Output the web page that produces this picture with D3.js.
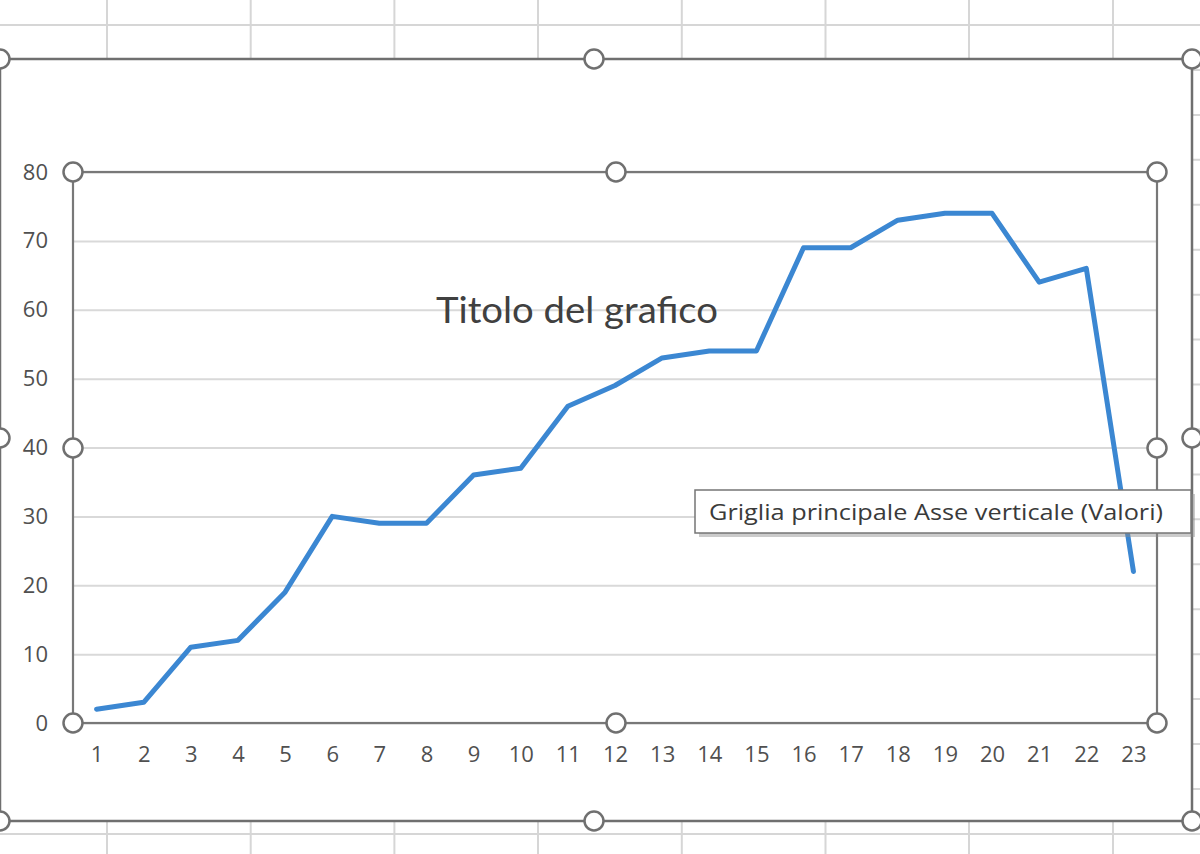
<!DOCTYPE html>
<html><head><meta charset="utf-8">
<script src="https://cdn.jsdelivr.net/npm/d3@7"></script>
<style>html,body{margin:0;padding:0;background:#fff;overflow:hidden}</style>
</head><body>
<svg id="c" width="1200" height="854"></svg>
<script>
const categories = ["1","2","3","4","5","6","7","8","9","10","11","12","13","14","15","16","17","18","19","20","21","22","23"];
const values = [2,3,11,12,19,30,29,29,36,37,46,49,53,54,54,69,69,73,74,74,64,66,22];
const yTicks = [0,10,20,30,40,50,60,70,80];
const titleText = "Titolo del grafico";
const tooltipText = "Griglia principale Asse verticale (Valori)";

const svg = d3.select("#c");
const W = 1200, H = 854;

// Excel sheet grid lines
const colX = [107,250.7,394.4,538,681.8,825.5,969,1113];
const rowY = d3.range(0,19).map(i => 25 + 44.94*i);
const sheet = svg.append("g").attr("stroke","#d6d6d6").attr("stroke-width",2);
colX.forEach(x => sheet.append("line").attr("x1",x).attr("x2",x).attr("y1",0).attr("y2",H));
rowY.forEach(y => sheet.append("line").attr("x1",0).attr("x2",W).attr("y1",y).attr("y2",y));

// chart area
const ca = {l:0, t:59, r:1192, b:821};
svg.append("rect").attr("x",ca.l).attr("y",ca.t).attr("width",ca.r-ca.l).attr("height",ca.b-ca.t)
  .attr("fill","#fff").attr("stroke","#6f6f6f").attr("stroke-width",2.5);

// plot area
const pa = {l:73, t:172, r:1157, b:723};
const x = d3.scalePoint().domain(categories).range([pa.l,pa.r]).padding(0.5);
const y = d3.scaleLinear().domain([0,80]).range([pa.b,pa.t]);

// gridlines via axis
const grid = svg.append("g").attr("transform",`translate(${pa.l},0)`)
  .call(d3.axisLeft(y).tickValues(yTicks).tickSize(-(pa.r-pa.l)).tickFormat(""));
grid.select(".domain").remove();
grid.selectAll("line").attr("stroke","#d9d9d9").attr("stroke-width",2);

// y labels
const yAx = svg.append("g").attr("transform",`translate(${pa.l},0)`)
  .call(d3.axisLeft(y).tickValues(yTicks).tickSize(0).tickPadding(25));
yAx.select(".domain").remove();
yAx.selectAll("text").attr("font-family","Open Sans, sans-serif").attr("font-size",22).attr("fill","#505050");

// x labels
const xAx = svg.append("g").attr("transform",`translate(0,${pa.b})`)
  .call(d3.axisBottom(x).tickSize(0).tickPadding(23));
xAx.select(".domain").remove();
xAx.selectAll("text").attr("font-family","Open Sans, sans-serif").attr("font-size",22).attr("fill","#505050");

// title
svg.append("text").attr("x",577).attr("y",323).attr("text-anchor","middle")
  .attr("font-family","Lato, Open Sans, sans-serif").attr("font-size",37).attr("fill","#404040")
  .attr("textLength",282).attr("lengthAdjust","spacingAndGlyphs").text(titleText);

// line
const line = d3.line().x((d,i)=>x(categories[i])).y(d=>y(d));
svg.append("path").datum(values).attr("d",line).attr("fill","none")
  .attr("stroke","#3b87d2").attr("stroke-width",5).attr("stroke-linejoin","round").attr("stroke-linecap","round");

// plot area selection frame
svg.append("rect").attr("x",pa.l).attr("y",pa.t).attr("width",pa.r-pa.l).attr("height",pa.b-pa.t)
  .attr("fill","none").attr("stroke","#787878").attr("stroke-width",2.2);

// handles
function handle(cx,cy){
  svg.append("circle").attr("cx",cx).attr("cy",cy).attr("r",9.5)
    .attr("fill","#fff").attr("stroke","#707070").attr("stroke-width",2.5);
}
const pmx = 616, pmy = 448;
[[pa.l,pa.t],[pmx,pa.t],[pa.r,pa.t],[pa.l,pmy],[pa.r,pmy],[pa.l,pa.b],[pmx,pa.b],[pa.r,pa.b]].forEach(p=>handle(p[0],p[1]));
[[ca.l,ca.t],[594,ca.t],[ca.r,ca.t],[ca.l,438],[ca.r,438],[ca.l,ca.b],[594,ca.b],[ca.r,ca.b]].forEach(p=>handle(p[0],p[1]));

// tooltip
const tt = svg.append("g");
tt.append("rect").attr("x",699).attr("y",494).attr("width",496).attr("height",43).attr("fill","#8c8c8c").attr("opacity",0.45);
tt.append("rect").attr("x",695).attr("y",490).attr("width",496).attr("height",43)
  .attr("fill","#fff").attr("stroke","#767676").attr("stroke-width",1.5);
tt.append("text").attr("x",709).attr("y",520).attr("font-family","Open Sans, sans-serif").attr("font-size",22)
  .attr("fill","#3a3a3a").attr("textLength",454).attr("lengthAdjust","spacingAndGlyphs").text(tooltipText);
</script>
</body></html>
